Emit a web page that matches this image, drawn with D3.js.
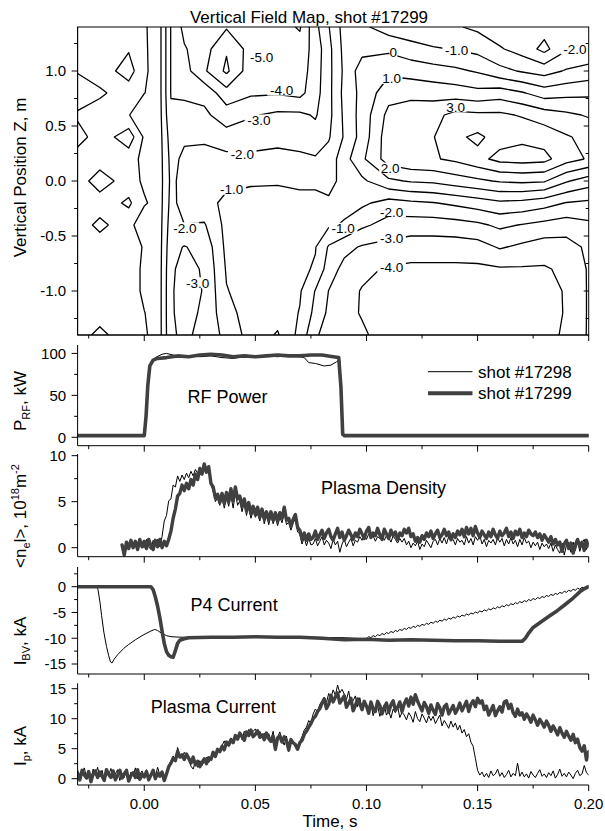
<!DOCTYPE html>
<html><head><meta charset="utf-8">
<script src="https://cdn.jsdelivr.net/npm/d3@7"></script>
<style>
body{margin:0;background:#fff}
svg{display:block}
text{font-family:"Liberation Sans",Arial,Helvetica,sans-serif;fill:#000}
</style>
</head><body>
<svg id="c" width="605" height="831"></svg>
<script>
// ---------------- DATA ----------------
const timeMajor = [0, 0.05, 0.1, 0.15, 0.2];
const timeMinor = [-0.025, 0.025, 0.075, 0.125, 0.175];
const zMajor = [-1, -0.5, 0, 0.5, 1];
const zMinor = [-1.25, -0.75, -0.25, 0.25, 0.75, 1.25];
const rfMajor = [0, 50, 100], rfMinor = [25, 75];
const neMajor = [0, 5, 10], neMinor = [2.5, 7.5];
const p4Major = [0, -5, -10, -15], p4Minor = [2.5, -2.5, -7.5, -12.5];
const ipMajor = [0, 5, 10, 15], ipMinor = [2.5, 7.5, 12.5];

const contourLevels = [-6, -5, -4, -3, -2, -1, 0, 1, 2, 3, 4];
const gridTimes = [-0.030, -0.020, -0.007, 0.000, 0.006, 0.012, 0.018, 0.027, 0.037, 0.048, 0.060, 0.070, 0.077,
                   0.083, 0.090, 0.098, 0.110, 0.120, 0.130, 0.140, 0.150, 0.160, 0.170, 0.180, 0.190, 0.200];
const gridZ = [1.4, 1.2, 1.0, 0.8, 0.6, 0.4, 0.2, 0.0, -0.2, -0.4, -0.6, -0.8, -1.0, -1.2, -1.4];
// vertical field (one column per time, values from Z=1.4 down to Z=-1.4)
const fieldByTime = [
 [0.4, 0.4, 0.9, 1.8, 0.8, 1.5, 0.4, 0.4, 0.4, 0.4, 0.4, 0.4, 0.4, 0.4, 0.5],
 [0.4, 0.4, 0.4, 1.2, 0.4, 0.4, 0.4, 1.6, 0.4, 1.3, 0.4, 0.4, 0.4, 0.5, 1.3],
 [0.3, 0.9, 1.5, 0.4, 0.05, 1.6, 0.4, 0.4, 1.2, 0.3, 0.4, 0.4, 0.4, 0.4, 0.3],
 [0.08, 0.1, 0.12, 0.02, -0.8, -0.15, -0.25, -0.15, 0.1, -0.6, -0.07, -0.15, -0.15, 0.02, 0.1],
 [-0.3, -0.3, -0.3, -0.3, -0.3, -0.3, -0.3, -0.3, -0.3, -0.3, -0.3, -0.3, -0.3, -0.3, -0.3],
 [-3.05, -3.05, -3.05, -3.05, -2.85, -2.5, -2.3, -2.2, -2.3, -2.5, -2.7, -2.85, -2.9, -2.9, -2.85],
 [-4.3, -3.9, -3.6, -3.1, -2.8, -2.15, -1.8, -1.7, -1.6, -2.02, -3.05, -3.3, -3.35, -3.3, -3.2],
 [-4.3, -4.6, -4.85, -3.3, -2.8, -2.1, -1.8, -1.6, -1.3, -2.1, -2.7, -2.9, -2.95, -2.85, -2.7],
 [-4.9, -5.9, -6.2, -4.6, -3.5, -2.6, -1.7, -1.2, -0.8, -0.7, -0.75, -0.9, -1.05, -1.3, -1.7],
 [-4.5, -4.6, -4.4, -4.15, -3.1, -2.4, -1.8, -1.1, -0.7, -0.6, -0.55, -0.5, -0.55, -0.6, -0.6],
 [-4.6, -4.5, -4.4, -4.1, -2.8, -2.3, -1.7, -1.1, -0.6, -0.4, -0.3, -0.2, -0.3, -0.4, 0.1],
 [-5.1, -4.6, -4.5, -4.3, -2.8, -2.4, -1.8, -1.2, -0.7, -0.6, -0.8, -0.8, -0.9, -1.05, -1.3],
 [-3.3, -3.6, -3.5, -3.4, -3.1, -2.6, -1.9, -1.2, -0.7, -0.7, -0.95, -1.1, -2.05, -2.3, -2.9],
 [-2.05, -2.3, -2.3, -2.3, -2.3, -2.1, -1.6, -1.4, -0.8, -0.85, -2.1, -2.5, -3.02, -3.2, -3.3],
 [-0.6, -0.7, -0.8, -0.7, -0.8, -0.9, -0.4, -0.6, -0.7, -1.1, -2.7, -3.3, -3.7, -3.8, -3.6],
 [-0.8, -0.3, 0.5, 0.3, 0.4, 0.4, 0.8, -0.2, -0.8, -1.8, -3.1, -3.8, -4.05, -4.05, -3.9],
 [-1.5, -0.2, 0.8, 1.6, 2.3, 2.6, 2.5, 0.8, -1.4, -2.4, -3.3, -4.1, -4.4, -4.5, -4.3],
 [-1.7, -0.6, 0.6, 1.7, 2.6, 2.9, 2.8, 1.1, -1.2, -2.5, -3.5, -4.2, -4.5, -4.6, -4.6],
 [-1.8, -0.9, 0.4, 1.6, 2.7, 2.95, 2.9, 1.2, -1.05, -2.5, -3.5, -4.2, -4.5, -4.6, -4.6],
 [-1.9, -1.05, 0.2, 1.5, 3.3, 3.8, 3.2, 1.5, -0.8, -2.4, -3.5, -4.2, -4.6, -4.7, -4.6],
 [-2.2, -1.3, -0.1, 1.3, 3.2, 4.2, 3.7, 1.8, -0.5, -2.2, -3.4, -4.2, -4.6, -4.7, -4.6],
 [-2.6, -1.9, -0.7, 1.5, 3.2, 3.6, 4.3, 2.1, -0.2, -1.8, -2.9, -4.1, -4.5, -4.6, -4.6],
 [-2.6, -2.4, -1.1, 1.1, 2.9, 3.8, 4.4, 2.2, -0.3, -2.05, -3.2, -4.1, -4.5, -4.6, -4.5],
 [-2.6, -3.3, -1.4, 0.5, 2.5, 3.6, 4.3, 2.1, -0.6, -2.3, -3.5, -4.1, -4.4, -4.5, -4.4],
 [-2.5, -2.1, -0.9, 0.7, 2.2, 3.1, 3.4, 1.1, -1.05, -2.5, -3.4, -3.8, -3.9, -3.9, -3.8],
 [-2.4, -1.9, -0.6, 0.8, 1.9, 2.7, 2.9, 0.5, -1.2, -2.2, -2.8, -2.9, -2.9, -2.9, -2.9]
];
const contourLabels = [
 {text:"-5.0", t:0.0528, z:1.13}, {text:"-4.0", t:0.0618, z:0.827}, {text:"-3.0", t:0.0516, z:0.555},
 {text:"-2.0", t:0.0441, z:0.245}, {text:"-1.0", t:0.0393, z:-0.075}, {text:"-2.0", t:0.0183, z:-0.425},
 {text:"-3.0", t:0.0240, z:-0.925}, {text:"0", t:0.1121, z:1.175}, {text:"-1.0", t:0.1406, z:1.191},
 {text:"-2.0", t:0.1938, z:1.20}, {text:"1.0", t:0.1113, z:0.933}, {text:"3.0", t:0.1401, z:0.675},
 {text:"2.0", t:0.1106, z:0.118}, {text:"-1.0", t:0.0895, z:-0.430}, {text:"-2.0", t:0.1113, z:-0.279},
 {text:"-3.0", t:0.1113, z:-0.521}, {text:"-4.0", t:0.1113, z:-0.779}
];

// RF power (kW)
const rfTimes17299 = [-0.03, 0.0, 0.0008, 0.0016, 0.0025, 0.004, 0.006, 0.01, 0.015, 0.02, 0.025, 0.03, 0.035, 0.04,
  0.045, 0.05, 0.055, 0.06, 0.065, 0.07, 0.075, 0.08, 0.085, 0.0875, 0.0885, 0.0893, 0.09, 0.2];
const rf17299 = [2, 2, 25, 62, 85, 92, 94, 95, 97, 96, 98, 99, 98, 96, 97, 96, 97, 98, 97, 97, 98, 98, 96, 95, 60, 4, 2, 2];
const rfTimes17298 = [-0.03, 0.0, 0.0008, 0.0018, 0.003, 0.005, 0.008, 0.01, 0.013, 0.017, 0.02, 0.025, 0.03, 0.035,
  0.04, 0.045, 0.05, 0.055, 0.06, 0.065, 0.07, 0.072, 0.074, 0.077, 0.081, 0.084, 0.0865, 0.088, 0.0885, 0.089, 0.2];
const rf17298 = [2, 2, 30, 70, 90, 95, 99, 100, 98, 97, 97, 96, 97, 95, 94, 96, 95, 97, 96, 97, 96, 95, 89, 88, 85, 86, 90, 92, 50, 2, 2];

// line density (1e18 m^-2), sampled every 1 ms from t = -0.010 s
const densStart = -0.010;
const dens17299 = [
 0.3,-0.8,0.6,-0.1,0.8,0.0,0.7,-0.2,0.9,0.1,
 0.7,-0.1,0.9,0.2,-0.2,0.8,0.1,0.9,0.0,0.7,0.2,0.9,
 1.8,3.2,4.2,5.6,5.9,6.8,6.2,7.0,6.4,7.4,6.8,8.0,7.4,8.6,8.0,9.1,8.2,8.8,7.0,
 6.6,5.4,5.8,4.9,5.9,4.8,6.0,5.0,6.4,5.1,6.6,5.3,5.6,4.5,5.3,
 4.0,4.9,3.7,4.5,3.6,4.4,3.3,4.2,3.1,3.9,3.0,3.9,3.0,3.8,2.9,3.8,3.2,4.4,3.0,
 3.2,2.3,3.1,3.6,2.2,1.9,0.9,1.6,0.8,1.5,0.9,
 1.1,1.8,0.9,1.4,1.9,1.0,1.6,2.0,1.2,0.8,
 1.5,2.1,1.1,1.7,0.8,1.3,1.9,1.4,0.9,1.6,
 1.2,2.0,1.5,1.0,1.8,2.2,1.1,1.6,1.3,2.1,
 1.4,0.9,2.0,1.5,1.0,1.9,1.3,1.7,0.9,1.6,
 1.3,2.0,1.6,2.1,1.2,1.5,0.7,1.1,0.6,1.3,
 0.9,1.6,1.2,1.8,1.0,1.5,1.9,1.1,1.4,2.0,
 1.3,1.7,0.9,1.5,1.1,1.8,1.4,2.0,1.2,2.2,
 1.5,2.1,1.3,2.3,1.6,1.1,1.8,1.4,1.0,1.7,
 1.2,2.0,1.4,1.0,1.8,1.3,1.6,2.1,1.2,1.7,
 1.0,1.8,1.4,2.0,1.1,1.6,1.2,1.9,1.5,1.3,
 1.7,1.1,1.5,0.8,1.4,1.0,0.6,1.2,0.4,0.9,0.3,
 0.6,-0.4,0.4,0.8,-0.1,0.5,-0.6,0.3,0.9,0.1,0.6,-0.3,0.8,0.2];
const dens17298 = [
 0.0,-0.6,0.6,0.1,0.8,0.0,0.7,-0.1,0.9,0.2,
 0.0,0.9,0.1,-0.2,0.8,0.2,0.9,0.1,
 1.2,2.9,3.5,5.1,5.3,6.8,6.6,7.8,7.2,7.9,7.4,8.1,7.6,8.3,7.8,8.5,8.1,8.7,8.3,9.0,8.3,8.4,6.8,
 6.2,5.0,5.4,4.6,5.5,4.3,5.4,4.5,5.7,4.3,6.0,4.6,5.1,3.9,4.9,
 3.5,4.6,3.2,4.0,3.3,3.7,2.9,3.9,2.6,3.6,2.5,3.5,2.6,3.3,2.4,3.3,2.7,3.9,2.5,
 2.8,1.9,2.7,3.1,1.7,1.5,0.4,1.1,0.2,1.0,0.3,
 0.4,1.0,0.2,0.7,1.2,0.3,0.8,0.5,-0.1,0.9,
 0.3,0.7,-0.5,0.4,0.9,0.1,0.6,1.0,0.2,0.8,
 0.6,1.2,0.8,1.4,0.9,1.5,1.0,1.3,0.7,1.2,
 1.0,1.5,0.8,1.3,1.1,0.6,1.3,0.9,0.5,1.0,
 0.6,1.0,0.3,0.7,0.0,0.5,0.2,0.7,-0.2,0.4,
 0.1,0.8,0.4,0.0,0.7,0.9,0.3,1.0,0.5,1.1,
 0.4,1.2,0.7,0.9,0.3,1.0,0.6,0.8,0.3,1.2,
 0.5,1.0,0.3,1.2,0.8,1.3,0.4,0.9,0.1,0.8,
 0.5,0.9,0.3,1.1,0.6,1.0,0.2,0.9,0.4,1.1,
 0.4,0.8,0.1,0.9,0.3,1.1,0.5,0.7,0.0,0.6,
 0.2,0.6,-0.2,0.5,0.1,0.4,-0.1,0.5,-0.4,0.3,-0.2,
 -0.6,0.5,-0.8,0.3,0.6,-0.5,0.6,-0.3,0.8,-0.4,0.5,0.9,-0.2,0.5];

// P4 coil current (kA)
const p4Times17299 = [-0.03, 0.003, 0.004, 0.005, 0.006, 0.007, 0.008, 0.009, 0.010, 0.011, 0.012, 0.013, 0.014, 0.015,
  0.016, 0.018, 0.02, 0.03, 0.04, 0.05, 0.06, 0.07, 0.08, 0.09, 0.1, 0.11, 0.12, 0.13, 0.14, 0.15, 0.16, 0.17, 0.1715,
  0.173, 0.175, 0.178, 0.182, 0.186, 0.189, 0.193, 0.196, 0.198, 0.2];
const p417299 = [0, 0, -0.6, -2.0, -3.8, -6.0, -8.6, -11.0, -12.6, -13.3, -13.6, -13.7, -12.4, -11.0, -10.4, -10.1,
  -9.9, -9.8, -9.8, -9.7, -9.8, -9.8, -10.0, -10.3, -10.2, -10.4, -10.3, -10.4, -10.5, -10.5, -10.6, -10.6, -10.0,
  -9.0, -7.9, -7.0, -5.8, -4.6, -3.6, -2.2, -1.0, -0.4, 0.0];
const p4Times17298 = [-0.03, -0.0215, -0.0208, -0.0200, -0.0192, -0.0182, -0.0170, -0.0160, -0.0152, -0.0145, -0.0136,
  -0.012, -0.0093, -0.007, -0.004, -0.001, 0.0012, 0.003, 0.0047, 0.006, 0.008, 0.010, 0.012, 0.016, 0.03, 0.05, 0.07, 0.09];
const p417298 = [0.0, 0.0, -0.6, -2.8, -5.6, -8.8, -11.6, -13.4, -14.6, -14.8, -14.1, -13.2, -12.0, -11.2, -10.3, -9.5,
  -9.0, -8.6, -8.3, -8.5, -9.1, -9.5, -9.7, -9.8, -9.8, -9.8, -9.8, -9.9];
// ramp part of #17298, every 1 ms from t = 0.100 s
const p4RampStart = 0.100;
const p4Ramp17298 = [
 -10.1,-9.7,-9.9,-9.5,-9.7,-9.3,-9.5,-9.1,-9.3,-8.9,
 -9.1,-8.7,-8.9,-8.5,-8.7,-8.3,-8.5,-8.1,-8.3,-7.9,
 -8.1,-7.7,-7.9,-7.5,-7.7,-7.3,-7.5,-7.1,-7.3,-6.9,
 -7.1,-6.7,-6.9,-6.5,-6.7,-6.3,-6.5,-6.1,-6.3,-5.9,
 -6.1,-5.7,-5.9,-5.5,-5.7,-5.3,-5.5,-5.1,-5.3,-4.9,
 -5.1,-4.7,-4.9,-4.5,-4.7,-4.3,-4.5,-4.1,-4.3,-3.9,
 -4.1,-3.7,-3.9,-3.5,-3.7,-3.3,-3.5,-3.1,-3.3,-2.9,
 -3.1,-2.7,-2.9,-2.5,-2.7,-2.3,-2.5,-2.1,-2.3,-1.9,
 -2.1,-1.7,-1.9,-1.5,-1.7,-1.3,-1.5,-1.1,-1.3,-0.9,
 -1.1,-0.7,-0.9,-0.5,-0.7,-0.3,-0.5,-0.1,-0.3,0.1,
 -0.1];

// plasma current (kA), every 1 ms from t = -0.030 s
const ipStart = -0.030;
const ip17299 = [
 0.9,-0.2,1.4,0.6,0.1,1.2,-0.5,0.8,1.3,0.2,
 1.1,0.4,-0.3,1.5,0.7,0.2,1.3,-0.2,0.6,1.4,
 0.1,0.8,1.4,-0.4,0.5,1.0,0.2,1.5,-0.1,0.7,
 0.3,1.2,-0.2,0.6,1.4,0.0,0.9,0.4,1.1,-0.3,
 0.8,2.0,2.6,3.4,3.0,4.5,3.6,4.0,3.2,4.1,
 3.4,2.6,3.6,2.3,2.9,2.0,2.7,3.3,2.5,3.5,
 3.2,4.4,3.7,4.9,4.5,5.4,4.8,6.1,5.6,6.5,
 6.0,7.2,6.6,7.6,7.0,6.4,7.8,7.2,8.1,7.0,
 7.4,8.0,6.9,7.3,6.5,7.6,6.7,6.2,7.1,4.9,
 6.8,7.1,6.1,7.0,6.3,4.8,6.5,6.0,5.7,4.9,
 6.0,6.4,7.4,7.9,8.6,9.2,10.0,10.4,11.2,11.7,
 12.6,13.3,11.7,12.4,13.9,12.8,13.6,14.3,12.6,13.2,
 13.8,11.9,12.6,13.4,11.3,12.2,13.3,12.5,11.5,12.9,
 12.1,10.9,12.8,11.6,11.2,12.9,12.2,10.8,11.9,12.6,
 11.1,12.3,13.0,11.4,11.9,12.8,11.2,12.5,13.3,12.1,
 13.6,12.4,14.0,12.9,12.1,11.3,12.7,12.0,10.9,12.3,
 11.4,10.7,12.5,11.8,10.6,12.0,12.4,10.8,11.5,12.2,
 10.9,11.6,12.6,11.3,12.1,12.9,11.2,12.4,13.0,12.0,
 13.4,12.6,13.0,11.5,12.1,10.6,11.4,12.2,10.5,11.3,
 12.0,11.1,12.8,13.0,11.7,12.4,11.0,10.4,11.6,10.6,
 11.0,9.9,10.8,10.2,9.4,10.6,9.8,8.9,9.9,9.3,
 8.6,9.6,8.9,7.9,8.8,8.1,7.3,8.5,7.6,6.9,
 7.9,7.1,6.4,7.4,6.0,6.6,5.2,4.6,5.5,3.1,
 4.5];
const ip17298 = [
 1.5,-0.4,0.9,1.8,0.2,1.1,-0.3,1.6,0.5,1.9,
 0.3,1.4,-0.2,1.0,0.6,1.7,0.1,0.8,1.5,-0.3,
 0.9,0.2,1.6,-0.4,1.1,0.5,1.8,0.0,0.7,1.3,
 0.4,1.5,-0.2,0.8,1.6,0.3,1.9,0.6,1.2,0.1,
 1.0,2.2,2.9,3.8,3.2,5.2,4.0,3.4,4.4,3.7,
 3.2,2.1,1.6,2.8,1.9,3.0,2.2,2.9,3.6,2.7,
 3.4,4.1,3.7,4.8,4.4,5.5,6.3,5.4,6.0,6.8,
 6.4,7.3,6.8,7.7,6.5,7.9,7.2,8.2,7.4,7.9,
 8.3,7.4,7.9,7.0,7.6,6.8,7.5,6.5,7.9,4.6,
 6.9,7.8,6.4,5.6,7.1,4.5,6.8,6.2,5.3,4.7,
 6.2,7.0,8.1,8.6,9.7,9.2,10.8,11.6,11.2,12.4,
 12.9,13.6,12.7,14.2,13.5,14.8,13.9,15.6,14.3,14.9,
 14.1,13.2,14.6,12.4,13.0,13.8,12.0,13.5,11.6,12.9,
 12.3,11.0,12.6,10.5,11.8,12.2,10.4,11.5,12.3,10.6,
 11.3,10.1,11.6,11.0,12.0,10.2,11.1,10.6,9.8,11.0,
 10.4,9.4,11.2,10.0,9.5,10.8,10.1,9.3,10.5,9.7,
 10.4,9.2,9.9,10.6,8.8,9.7,9.1,8.4,9.6,8.6,
 9.3,8.1,8.9,7.6,8.2,7.0,7.5,6.1,5.4,3.4,
 1.4,0.6,1.1,0.3,0.9,0.2,1.3,0.5,0.8,1.6,
 0.4,1.0,0.2,0.7,1.4,0.3,0.9,0.5,2.6,0.4,
 1.1,0.3,0.8,0.1,1.2,0.6,0.2,0.9,1.5,0.4,
 0.8,0.2,1.0,0.5,1.3,0.1,0.7,1.6,0.4,0.9,
 0.3,1.1,0.6,0.0,0.9,1.4,0.5,0.8,2.2,1.0,
 0.6];

// ---------------- DRAWING ----------------
const svg = d3.select('#c');
svg.append('rect').attr('width', 605).attr('height', 831).attr('fill', '#fff');
const X0 = 77.6, X1 = 588.7;
const x = d3.scaleLinear().domain([-0.03, 0.2]).range([X0, X1]);
const hy = s => s.replace(/\u2212/g, '-');
const GRAY = '#404040';

const panels = {
  map: {top: 27, bottom: 335, dom: [-1.4, 1.4]},
  rf:  {top: 345, bottom: 445.7, dom: [-10, 110]},
  ne:  {top: 454, bottom: 556.7, dom: [-0.98, 10.18]},
  p4:  {top: 567, bottom: 674, dom: [-16.94, 3.82]},
  ip:  {top: 683.3, bottom: 785, dom: [-1.05, 15.9]}
};
for (const k in panels) {
  const p = panels[k];
  p.y = d3.scaleLinear().domain(p.dom).range([p.bottom, p.top]);
  const id = 'clip_' + k;
  svg.append('clipPath').attr('id', id).append('rect')
    .attr('x', X0).attr('y', p.top).attr('width', X1 - X0).attr('height', p.bottom - p.top);
  p.clip = 'url(#' + id + ')';
}

function leftAxis(p, majors, minors, fmt) {
  const g = svg.append('g').attr('stroke', '#000').attr('stroke-width', 1);
  g.append('line').attr('x1', X0).attr('x2', X0).attr('y1', p.top).attr('y2', p.bottom);
  majors.forEach(v => g.append('line').attr('x1', X0 - 6).attr('x2', X0).attr('y1', p.y(v)).attr('y2', p.y(v)));
  minors.forEach(v => g.append('line').attr('x1', X0 - 3.5).attr('x2', X0).attr('y1', p.y(v)).attr('y2', p.y(v)));
  majors.forEach(v => svg.append('text').attr('x', X0 - 11.5).attr('y', p.y(v)).attr('dy', '0.36em')
    .attr('text-anchor', 'end').attr('font-size', 15).text(hy(fmt(v))));
}
function bottomAxis(p, labels) {
  const g = svg.append('g').attr('stroke', '#000').attr('stroke-width', 1);
  g.append('line').attr('x1', X0).attr('x2', X1).attr('y1', p.bottom).attr('y2', p.bottom);
  timeMajor.forEach(v => g.append('line').attr('x1', x(v)).attr('x2', x(v)).attr('y1', p.bottom).attr('y2', p.bottom + 6));
  timeMinor.forEach(v => g.append('line').attr('x1', x(v)).attr('x2', x(v)).attr('y1', p.bottom).attr('y2', p.bottom + 3.5));
  if (labels) timeMajor.forEach(v => svg.append('text').attr('x', x(v)).attr('y', 809)
    .attr('text-anchor', 'middle').attr('font-size', 15).text(d3.format('.2f')(v)));
}
function yLabel(cx, cy, parts) {
  const t = svg.append('text').attr('transform', `translate(${cx},${cy}) rotate(-90)`)
    .attr('text-anchor', 'middle').attr('font-size', 17);
  parts.forEach(([s, kind]) => {
    const ts = t.append('tspan').text(s);
    if (kind === 'sub') ts.attr('font-size', 11).attr('dy', 4);
    else if (kind === 'sup') ts.attr('font-size', 11).attr('dy', -7);
    else if (kind === 'subback') ts.attr('dy', -4);
    else if (kind === 'supback') ts.attr('dy', 7);
  });
}
function seriesLine(p, xs, ys, color, width) {
  const pts = xs.map((t, i) => [t, ys[i]]);
  svg.append('path').attr('clip-path', p.clip)
    .attr('d', d3.line().x(d => x(d[0])).y(d => p.y(d[1]))(pts))
    .attr('fill', 'none').attr('stroke', color).attr('stroke-width', width)
    .attr('stroke-linejoin', 'round').attr('stroke-linecap', 'round');
}
const sampled = (start, n) => d3.range(n).map(i => +(start + i * 0.001).toFixed(4));

// ----- contour map -----
const M = panels.map;
svg.append('text').attr('x', 309).attr('y', 22.7).attr('text-anchor', 'middle').attr('font-size', 17)
  .text('Vertical Field Map, shot #17299');
const n = gridTimes.length, m = gridZ.length;
const values = new Array(n * m);
for (let i = 0; i < n; i++) for (let j = 0; j < m; j++) values[j * n + i] = fieldByTime[i][j];
const idxToT = d3.scaleLinear().domain(d3.range(n)).range(gridTimes);
const idxToZ = d3.scaleLinear().domain(d3.range(m)).range(gridZ);
const gx = px => x(idxToT(Math.max(0, Math.min(n - 1, px - 0.5))));
const gy = py => M.y(idxToZ(Math.max(0, Math.min(m - 1, py - 0.5))));
const onEdge = p => p[0] <= 0 || p[0] >= n || p[1] <= 0 || p[1] >= m;
const contours = d3.contours().size([n, m]).thresholds(contourLevels)(values);
const cg = svg.append('g').attr('clip-path', M.clip);
contours.forEach(c => {
  c.coordinates.forEach(poly => poly.forEach(ring => {
    let cur = [];
    const flush = () => { if (cur.length > 1) cg.append('path').attr('d', d3.line()(cur))
      .attr('fill', 'none').attr('stroke', '#000').attr('stroke-width', 1.3).attr('stroke-linejoin', 'round'); cur = []; };
    ring.forEach(pt => { if (onEdge(pt)) flush(); else cur.push([gx(pt[0]), gy(pt[1])]); });
    flush();
  }));
});
contourLabels.forEach(l => {
  const cx = x(l.t), cy = M.y(l.z);
  const w = l.text.length * 6.9 + 1;
  svg.append('rect').attr('x', cx - w / 2).attr('y', cy - 5.5).attr('width', w).attr('height', 11).attr('fill', '#fff');
  svg.append('text').attr('x', cx).attr('y', cy + 4.9).attr('text-anchor', 'middle').attr('font-size', 13.5).text(l.text);
});
svg.append('rect').attr('x', X0).attr('y', M.top).attr('width', X1 - X0).attr('height', M.bottom - M.top)
  .attr('fill', 'none').attr('stroke', '#000').attr('stroke-width', 1);
leftAxis(M, zMajor, zMinor, d3.format('.1f'));
{
  const g = svg.append('g').attr('stroke', '#000').attr('stroke-width', 1);
  zMajor.forEach(v => g.append('line').attr('x1', X1 - 5).attr('x2', X1).attr('y1', M.y(v)).attr('y2', M.y(v)));
  zMinor.forEach(v => g.append('line').attr('x1', X1 - 3).attr('x2', X1).attr('y1', M.y(v)).attr('y2', M.y(v)));
}
bottomAxis(M, false);
yLabel(25.5, 177.5, [['Vertical Position Z, m']]);

// ----- RF power -----
const R = panels.rf;
seriesLine(R, rfTimes17298, rf17298, '#000', 1);
seriesLine(R, rfTimes17299, rf17299, GRAY, 3.6);
leftAxis(R, rfMajor, rfMinor, d3.format('d'));
bottomAxis(R, false);
yLabel(25.5, 401, [['P'], ['RF', 'sub'], [', kW', 'subback']]);
svg.append('text').attr('x', 187.5).attr('y', 402.7).attr('font-size', 18).text('RF Power');
svg.append('line').attr('x1', 428).attr('x2', 472.5).attr('y1', 371.7).attr('y2', 371.7).attr('stroke', '#000').attr('stroke-width', 1);
svg.append('line').attr('x1', 428).attr('x2', 472.5).attr('y1', 393.3).attr('y2', 393.3).attr('stroke', GRAY).attr('stroke-width', 4);
svg.append('text').attr('x', 478).attr('y', 377.6).attr('font-size', 17).text('shot #17298');
svg.append('text').attr('x', 478).attr('y', 399.2).attr('font-size', 17).text('shot #17299');

// ----- density -----
const N = panels.ne;
seriesLine(N, sampled(densStart, dens17298.length), dens17298, '#000', 1);
seriesLine(N, sampled(densStart, dens17299.length), dens17299, GRAY, 3.4);
leftAxis(N, neMajor, neMinor, d3.format('d'));
bottomAxis(N, false);
yLabel(25.5, 516, [['<n'], ['e', 'sub'], ['l>, 10', 'subback'], ['18', 'sup'], ['m', 'supback'], ['-2', 'sup']]);
svg.append('text').attr('x', 321).attr('y', 493.5).attr('font-size', 18).text('Plasma Density');

// ----- P4 current -----
const P = panels.p4;
seriesLine(P, p4Times17298.concat(sampled(p4RampStart, p4Ramp17298.length)), p417298.concat(p4Ramp17298), '#000', 1);
seriesLine(P, p4Times17299, p417299, GRAY, 3.6);
leftAxis(P, p4Major, p4Minor, d3.format('d'));
bottomAxis(P, false);
yLabel(25.5, 641, [['I'], ['BV', 'sub'], [', kA', 'subback']]);
svg.append('text').attr('x', 190.6).attr('y', 611.3).attr('font-size', 18).text('P4 Current');

// ----- plasma current -----
const I = panels.ip;
seriesLine(I, sampled(ipStart, ip17298.length), ip17298, '#000', 1);
seriesLine(I, sampled(ipStart, ip17299.length), ip17299, GRAY, 3.4);
leftAxis(I, ipMajor, ipMinor, d3.format('d'));
bottomAxis(I, true);
yLabel(25.5, 746, [['I'], ['p', 'sub'], [', kA', 'subback']]);
svg.append('text').attr('x', 150.7).attr('y', 713).attr('font-size', 18).text('Plasma Current');
svg.append('text').attr('x', 330).attr('y', 827).attr('text-anchor', 'middle').attr('font-size', 17).text('Time, s');
</script>
</body></html>
